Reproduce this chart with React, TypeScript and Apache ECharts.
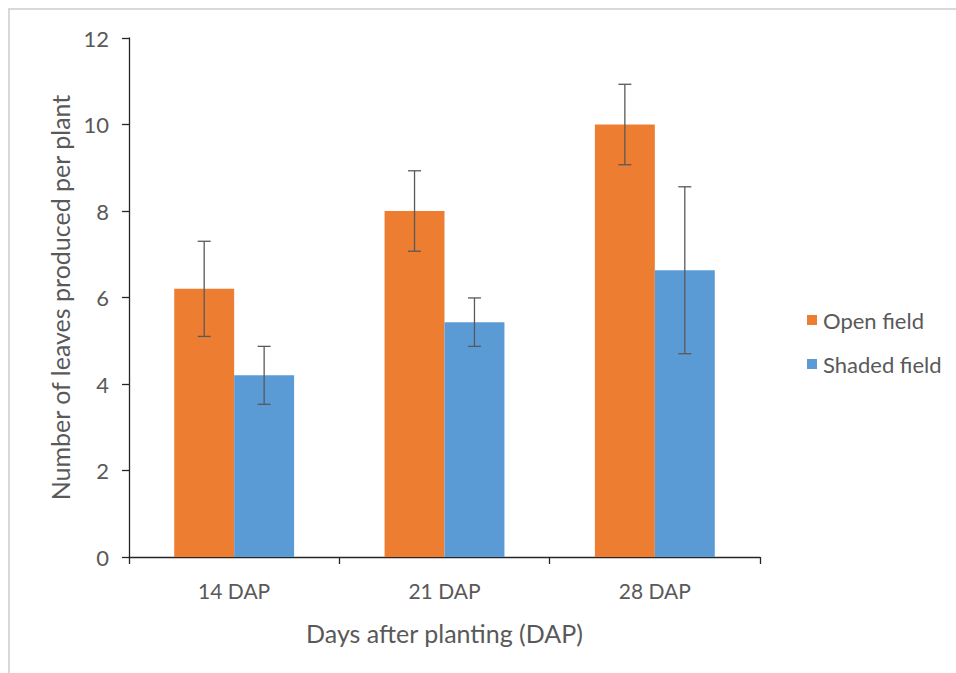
import React, { useEffect, useRef } from "react";
import * as echarts from "echarts";

const categories = ["14 DAP", "21 DAP", "28 DAP"];
const openField = [6.2, 8.0, 10.0];
const openFieldErr = [1.1, 0.93, 0.93];
const shadedField = [4.2, 5.43, 6.63];
const shadedFieldErr = [0.67, 0.56, 1.93];
const yTicks = { min: 0, max: 12, interval: 2 };

const FONT = "Lato";
const TEXT = "#595959";
const AXIS = "#262626";
const ORANGE = "#ED7D31";
const BLUE = "#5B9BD5";
const CAT_GAP = 0.43;

function errorSeries(means: number[], errs: number[], side: number) {
  return {
    type: "custom",
    name: side < 0 ? "err-open" : "err-shaded",
    z: 10,
    silent: true,
    data: means.map((m, i) => [i, m, errs[i]]),
    encode: { x: 0, y: 1 },
    renderItem: (_params: any, api: any) => {
      const idx = api.value(0);
      const mean = api.value(1);
      const err = api.value(2);
      const band = api.size([1, 0])[0];
      const offset = (side * band * (1 - CAT_GAP)) / 4;
      const x = api.coord([idx, mean])[0] + offset;
      const yTop = api.coord([idx, mean + err])[1];
      const yBot = api.coord([idx, mean - err])[1];
      const cap = 6.5;
      const style = { stroke: "#595959", lineWidth: 1.3 };
      return {
        type: "group",
        children: [
          { type: "line", shape: { x1: x, y1: yTop, x2: x, y2: yBot }, style },
          { type: "line", shape: { x1: x - cap, y1: yTop, x2: x + cap, y2: yTop }, style },
          { type: "line", shape: { x1: x - cap, y1: yBot, x2: x + cap, y2: yBot }, style },
        ],
      };
    },
  };
}

export default function App() {
  const ref = useRef<HTMLDivElement>(null);
  useEffect(() => {
    if (!ref.current) return;
    const chart = echarts.init(ref.current, null, { renderer: "svg" });
    chart.setOption({
      animation: false,
      backgroundColor: "#ffffff",
      textStyle: { fontFamily: FONT },
      graphic: [
        {
          type: "rect",
          shape: { x: 9, y: 9, width: 1000, height: 1000 },
          style: { fill: "none", stroke: "#d9d9d9", lineWidth: 2 },
          silent: true,
        },
      ],
      grid: { left: 129, right: 196, top: 38, bottom: 116, containLabel: false },
      legend: {
        orient: "vertical",
        left: 802,
        top: 304,
        itemWidth: 10,
        itemHeight: 10,
        itemGap: 22,
        icon: "rect",
        data: ["Open field", "Shaded field"],
        textStyle: { color: TEXT, fontSize: 22, fontFamily: FONT, lineHeight: 22, padding: [0, 0, 0, 1] },
      },
      xAxis: {
        type: "category",
        data: categories,
        name: "Days after planting (DAP)",
        nameLocation: "middle",
        nameGap: 63,
        nameTextStyle: { color: TEXT, fontSize: 25, fontFamily: FONT },
        axisLine: { lineStyle: { color: AXIS, width: 1.3 } },
        axisTick: { show: true, length: 7, lineStyle: { color: AXIS, width: 1.3 } },
        axisLabel: { color: TEXT, fontSize: 21, fontFamily: FONT, margin: 23 },
      },
      yAxis: {
        type: "value",
        min: yTicks.min,
        max: yTicks.max,
        interval: yTicks.interval,
        name: "Number of leaves produced per plant",
        nameLocation: "middle",
        nameGap: 57,
        nameTextStyle: { color: TEXT, fontSize: 25, fontFamily: FONT },
        axisLine: { show: true, lineStyle: { color: AXIS, width: 1.3 } },
        axisTick: { show: true, length: 7, lineStyle: { color: AXIS, width: 1.3 } },
        axisLabel: { color: TEXT, fontSize: 22, fontFamily: FONT, margin: 20 },
        splitLine: { show: false },
      },
      series: [
        {
          type: "bar",
          name: "Open field",
          data: openField,
          itemStyle: { color: ORANGE },
          barGap: "0%",
          barCategoryGap: CAT_GAP * 100 + "%",
        },
        {
          type: "bar",
          name: "Shaded field",
          data: shadedField,
          itemStyle: { color: BLUE },
          barGap: "0%",
          barCategoryGap: CAT_GAP * 100 + "%",
        },
        errorSeries(openField, openFieldErr, -1),
        errorSeries(shadedField, shadedFieldErr, 1),
      ],
    });
    return () => chart.dispose();
  }, []);
  return (
    <div
      ref={ref}
      style={{ position: "fixed", left: 0, top: 0, width: 956, height: 673 }}
    />
  );
}
